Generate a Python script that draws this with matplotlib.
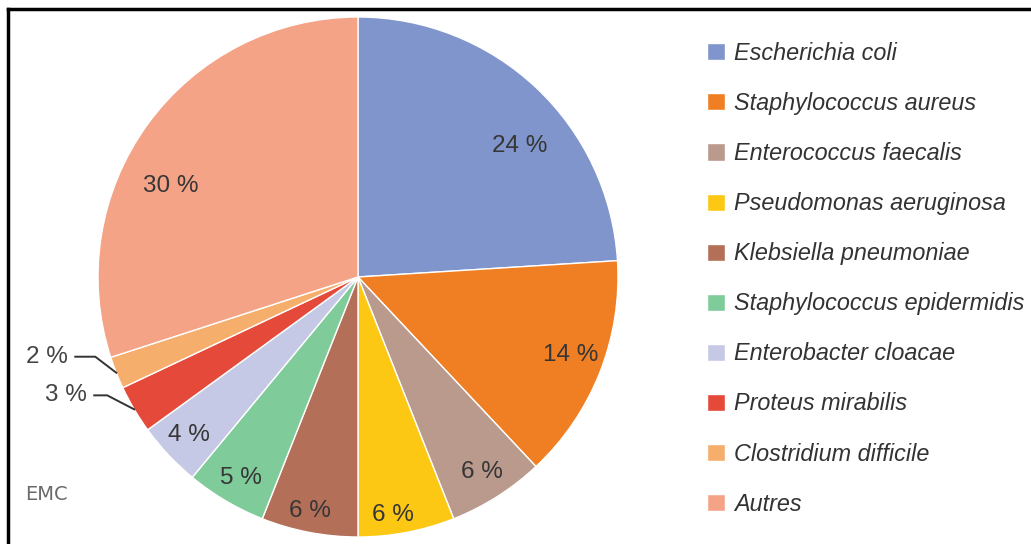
import numpy as np
import matplotlib.pyplot as plt
from matplotlib.lines import Line2D

# données
germes = ['Escherichia coli', 'Staphylococcus aureus', 'Enterococcus faecalis',
          'Pseudomonas aeruginosa', 'Klebsiella pneumoniae',
          'Staphylococcus epidermidis', 'Enterobacter cloacae',
          'Proteus mirabilis', 'Clostridium difficile', 'Autres']
parts = [24, 14, 6, 6, 6, 5, 4, 3, 2, 30]

couleurs = ['#7f95cb', '#ef7f22', '#b99a8d', '#fdc814', '#b46f58',
            '#7fcb9a', '#c6c9e5', '#e5493a', '#f6ae6c', '#f4a387']

# placement des étiquettes (rayon, décalage angulaire en degrés) ; None = étiquette externe
lbl_r = [0.80, 0.87, 0.89, 0.925, 0.92, 0.895, 0.89, None, None, 0.80]
lbl_dang = [-7.6, 1.5, 0, -2.4, -0.7, 0.4, -0.1, 0, 0, 10]
# lignes de rappel pour les petites parts : (dx, dy, longueur horizontale) en pixels
rappel = {7: (-27, 14, 13), 8: (-21, 16, 20)}

plt.rcParams['font.family'] = ['Liberation Sans', 'DejaVu Sans']

W, H = 1031, 544
fig = plt.figure(figsize=(W / 100, H / 100), dpi=100)
R = 260
cx, cy = 358, 277
ax = fig.add_axes([(cx - R) / W, (H - cy - R) / H, 2 * R / W, 2 * R / H])

wedges, _ = ax.pie(parts, colors=couleurs, startangle=90, counterclock=False,
                   radius=1.0, wedgeprops=dict(edgecolor='white', linewidth=1.0))
ax.set_xlim(-1, 1)
ax.set_ylim(-1, 1)
ax.set_aspect('equal')
ax.axis('off')

px = 1.0 / R  # un pixel en unités de données
for i, (w, p) in enumerate(zip(wedges, parts)):
    mid = np.deg2rad((w.theta1 + w.theta2) / 2 + lbl_dang[i])
    if lbl_r[i] is not None:
        r = lbl_r[i]
        ax.text(r * np.cos(mid), r * np.sin(mid), f'{p} %', ha='center', va='center',
                fontsize=17.5, color='#363636')
    else:
        dx, dy, h = rappel[i]
        ex, ey = np.cos(mid), np.sin(mid)
        kx, ky = ex + dx * px, ey + dy * px
        lx = kx - h * px
        ax.add_line(Line2D([ex, kx, lx], [ey, ky, ky], color='#333333', lw=1.4,
                           clip_on=False))
        ax.text(lx - 7 * px, ky, f'{p} %', ha='right', va='center',
                fontsize=17.5, color='#444444', clip_on=False)

leg = fig.legend(wedges, germes, loc='upper left',
                 bbox_to_anchor=(707 / W, 1 - 42 / H), frameon=False,
                 prop=dict(family='Liberation Sans', style='italic', size=16.8),
                 handlelength=0.75, handleheight=0.75, handletextpad=0.4,
                 labelspacing=1.16, borderpad=0, borderaxespad=0)
for t in leg.get_texts():
    t.set_color('#333333')

# logo
fig.text(46 / W, 1 - 495 / H, 'EMC', fontsize=14, color='#6a6a6a',
         ha='center', va='center', family=['Liberation Sans Narrow', 'DejaVu Sans'])

# cadre (haut et gauche seulement visibles)
fig.add_artist(Line2D([8 / W, 1], [1 - 9 / H, 1 - 9 / H], color='black', lw=2.5,
                      transform=fig.transFigure))
fig.add_artist(Line2D([8 / W, 8 / W], [0, 1 - 9 / H], color='black', lw=2.5,
                      transform=fig.transFigure))

fig.savefig('out.png', dpi=100)
